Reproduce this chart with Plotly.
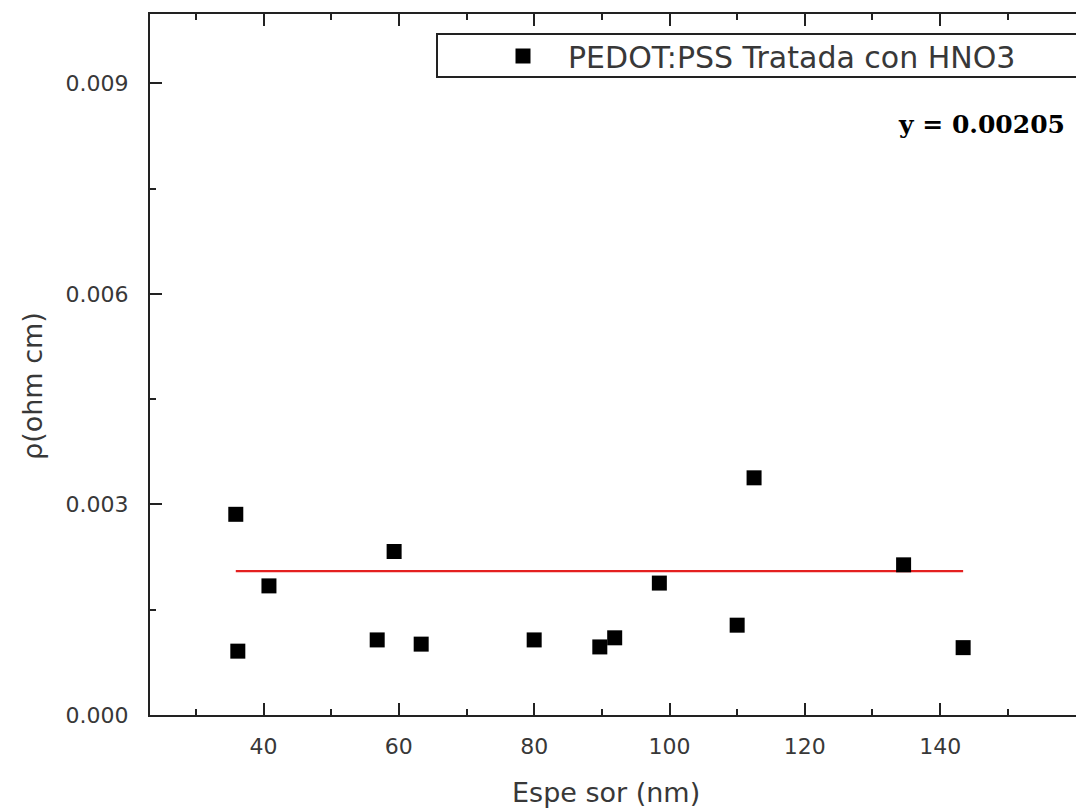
import plotly.graph_objects as go

# Film thickness (nm) and resistivity (ohm cm) of HNO3-treated PEDOT:PSS
espesor_nm = [35.9, 36.2, 40.8, 56.8, 59.3, 63.3, 80.0, 89.7, 91.9, 98.5, 110.0, 112.5, 134.6, 143.4]
rho_ohm_cm = [0.00286, 0.00091, 0.00184, 0.00107, 0.00233, 0.00101, 0.00107,
              0.00097, 0.00110, 0.00188, 0.00128, 0.00338, 0.00214, 0.00096]

# Constant fit
fit_value = 0.00205
fit_label = "y = 0.00205"

series_name = "PEDOT:PSS Tratada con HNO3"
x_title = "Espe sor (nm)"
y_title = "ρ(ohm cm)"

W, H = 1076, 809
ML, MR, MT, MB = 150, 0, 14, 94
PW, PH = W - ML - MR, H - MT - MB


def px(xp):
    return (xp - ML) / PW


def py(yp):
    return (H - MB - yp) / PH


axis_color = "#222222"
text_color = "#383838"
sans = "DejaVu Sans"

fig = go.Figure()

fig.add_trace(go.Scatter(
    x=[min(espesor_nm), max(espesor_nm)],
    y=[fit_value, fit_value],
    mode="lines",
    line=dict(color="rgb(228,32,32)", width=2.2),
    showlegend=False,
    hoverinfo="skip",
))

fig.add_trace(go.Scatter(
    x=espesor_nm,
    y=rho_ohm_cm,
    mode="markers",
    name=series_name,
    marker=dict(symbol="square", size=15, color="black", line=dict(width=0)),
))

fig.update_layout(
    width=W,
    height=H,
    margin=dict(l=ML, r=MR, t=MT, b=MB, pad=0),
    paper_bgcolor="white",
    plot_bgcolor="white",
    font=dict(family=sans, color=text_color),
    showlegend=True,
    legend=dict(
        x=px(478), y=py(56), xanchor="left", yanchor="middle",
        bgcolor="rgba(0,0,0,0)", borderwidth=0,
        font=dict(family=sans, size=30, color=text_color),
        itemwidth=80,
    ),
    xaxis=dict(
        range=[23.22, 160.08],
        showgrid=False, zeroline=False,
        showline=True, linecolor=axis_color, linewidth=2,
        mirror="ticks",
        ticks="inside", ticklen=12, tickwidth=2, tickcolor=axis_color,
        tick0=0, dtick=20,
        minor=dict(ticks="inside", ticklen=6, tickwidth=2, tickcolor=axis_color, dtick=10, showgrid=False),
        tickfont=dict(family=sans, size=22, color=text_color),
        ticklabelstandoff=11,
    ),
    yaxis=dict(
        range=[0, 0.00999],
        showgrid=False, zeroline=False,
        showline=True, linecolor=axis_color, linewidth=2,
        mirror=False,
        ticks="inside", ticklen=12, tickwidth=2, tickcolor=axis_color,
        tick0=0, dtick=0.003, tickformat=".3f",
        minor=dict(ticks="inside", ticklen=6, tickwidth=2, tickcolor=axis_color, dtick=0.0015, showgrid=False),
        tickfont=dict(family=sans, size=22, color=text_color),
        ticklabelstandoff=15,
    ),
)

# Legend frame, running past the right edge of the figure
fig.add_shape(type="rect", xref="paper", yref="paper",
              x0=px(437), x1=1.05, y0=py(77), y1=py(34),
              line=dict(color=axis_color, width=2), fillcolor="rgba(0,0,0,0)", layer="below")

fig.add_annotation(text=x_title, xref="paper", yref="paper",
                   x=px(606), y=py(792), xanchor="center", yanchor="middle",
                   showarrow=False, font=dict(family=sans, size=27, color=text_color))
fig.add_annotation(text=y_title, xref="paper", yref="paper",
                   x=px(32), y=py(386), xanchor="center", yanchor="middle", textangle=-90,
                   showarrow=False, font=dict(family=sans, size=27, color=text_color))
fig.add_annotation(text="<b>" + fit_label + "</b>", xref="paper", yref="paper",
                   x=px(1067), y=py(125), xanchor="right", yanchor="middle",
                   showarrow=False, font=dict(family="DejaVu Serif", size=25, color="black"))

fig.write_html("out.html")
